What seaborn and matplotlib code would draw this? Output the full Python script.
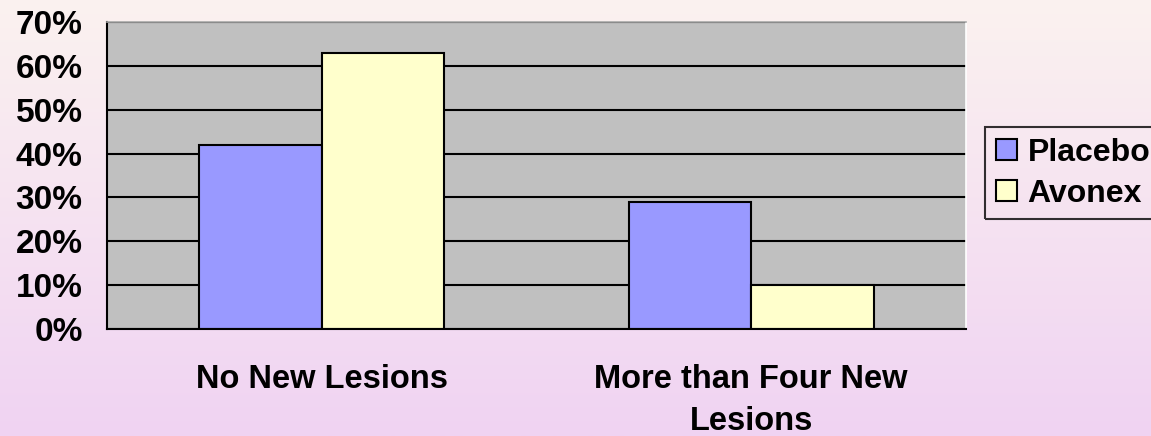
import numpy as np
import pandas as pd
import matplotlib
matplotlib.use("Agg")
import matplotlib.pyplot as plt
import seaborn as sns
from matplotlib.ticker import FuncFormatter

categories = ["No New Lesions", "More than Four New\nLesions"]
groups = ["Placebo", "Avonex"]
placebo_vals = [42, 29]
avonex_vals = [63, 10]
y_ticks = [0, 10, 20, 30, 40, 50, 60, 70]

sns.set_theme(style="white")
plt.rcParams["font.family"] = ["Liberation Sans", "DejaVu Sans"]
plt.rcParams["font.weight"] = "bold"
plt.rcParams["text.color"] = "black"
plt.rcParams["xtick.color"] = "black"
plt.rcParams["ytick.color"] = "black"

df = pd.DataFrame({
    "category": categories * 2,
    "group": [groups[0]] * 2 + [groups[1]] * 2,
    "value": placebo_vals + avonex_vals,
})

fig = plt.figure(figsize=(11.51, 4.36), dpi=100)

# gradient background
bg = fig.add_axes([0, 0, 1, 1], zorder=-10)
top = np.array([251, 242, 239]) / 255
bot = np.array([240, 211, 243]) / 255
t = np.linspace(0, 1, 256)[:, None]
grad = (top[None, :] * (1 - t) + bot[None, :] * t)[:, None, :]
bg.imshow(grad, aspect="auto", extent=[0, 1, 0, 1])
bg.axis("off")

ax = fig.add_axes([107 / 1151, 1 - 329 / 436, (966 - 107) / 1151, (329 - 22) / 436])
ax.set_facecolor("#C0C0C0")

sns.barplot(data=df, x="category", y="value", hue="group", order=categories,
            hue_order=groups, palette=["#9999FF", "#FFFFCC"], width=0.57,
            edgecolor="black", linewidth=1.5, saturation=1, ax=ax, errorbar=None)

ax.set_xlim(-0.5, 1.5)
ax.set_ylim(0, 70)
ax.set_yticks(y_ticks)
ax.yaxis.set_major_formatter(FuncFormatter(lambda v, p: f"{int(v)}%"))
ax.set_axisbelow(True)
ax.yaxis.grid(True, color="black", linewidth=1.5)
ax.xaxis.grid(False)

ax.set_xticks([-0.5, 0.5, 1.5])
ax.set_xticklabels(["", "", ""])
ax.set_xticks([0, 1], categories, minor=True)
ax.tick_params(axis="x", which="major", direction="out", length=8, width=1.5, color="black")
ax.tick_params(axis="x", which="minor", length=0, pad=25, labelsize=23.5, labelcolor="black")
for lbl in ax.get_xticklabels(minor=True):
    lbl.set_fontweight("bold")
    lbl.set_linespacing(1.45)
    lbl.set_verticalalignment("top")
ax.tick_params(axis="y", direction="out", length=7.5, width=1.5, color="black",
               pad=10, labelsize=24, labelcolor="black")
for lbl in ax.get_yticklabels():
    lbl.set_fontweight("bold")

ax.set_xlabel("")
ax.set_ylabel("")
for s in ["left", "bottom"]:
    ax.spines[s].set_color("black")
    ax.spines[s].set_linewidth(1.5)
ax.spines["top"].set_color("#A8A8A8")
ax.spines["top"].set_linewidth(1.2)
ax.spines["right"].set_color("white")
ax.spines["right"].set_linewidth(1.2)

ax.get_legend().remove()
handles, labels = ax.get_legend_handles_labels()
leg = fig.legend(handles, labels, loc="upper left",
                 bbox_to_anchor=(985 / 1151, 1 - 127 / 436), borderaxespad=0,
                 frameon=True, fancybox=False, edgecolor="black",
                 prop={"weight": "bold", "size": 23}, handlelength=0.66,
                 handleheight=0.66, handletextpad=0.34, labelspacing=0.35,
                 borderpad=0.33)
leg.get_frame().set_facecolor("none")
leg.get_frame().set_linewidth(1.5)
for txt in leg.get_texts():
    txt.set_color("black")

fig.savefig("out.png", dpi=100)
